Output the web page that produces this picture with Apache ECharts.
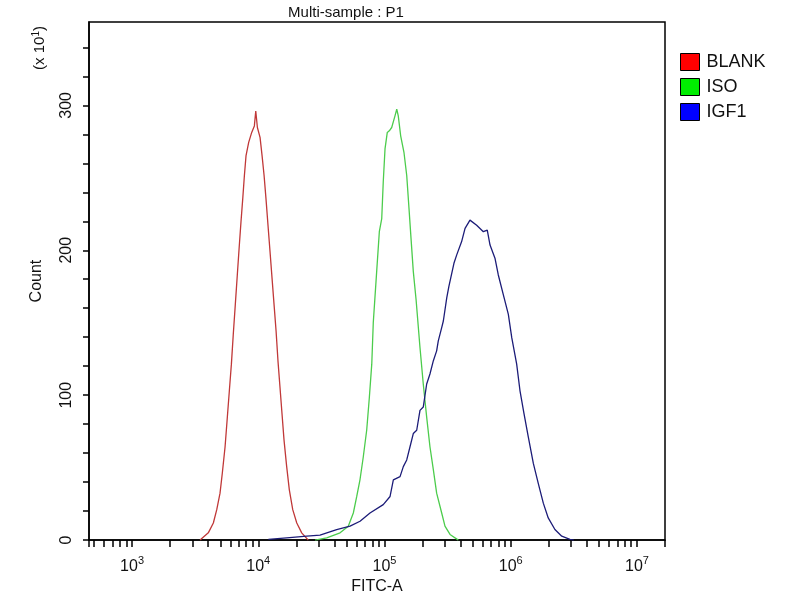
<!DOCTYPE html>
<html>
<head>
<meta charset="utf-8">
<script src="https://cdn.jsdelivr.net/npm/echarts@6/dist/echarts.min.js"></script>
<style>html,body{margin:0;padding:0;background:#fff}#c{width:800px;height:600px}</style>
</head>
<body>
<div id="c"></div>
<script>
// x values are log10(FITC-A); y values are Count (x10^1)
const blankLog = [3.539,3.604,3.644,3.671,3.697,3.715,3.737,3.755,3.771,3.787,3.802,3.818,3.834,3.850,3.863,3.877,3.890,3.903,3.924,3.948,3.969,3.980,3.993,4.014,4.030,4.046,4.061,4.077,4.093,4.109,4.125,4.141,4.156,4.172,4.188,4.204,4.225,4.246,4.273,4.305,4.344,4.396];
const blankCount = [0,5.0,11.8,21.0,32.4,46.1,64.4,84.9,103.2,121.4,142.0,162.5,183.1,203.6,219.6,235.6,251.6,265.3,274.4,281.3,285.8,296.1,284.7,277.9,265.3,251.6,235.6,217.3,199.1,180.8,162.5,144.3,123.7,105.5,87.2,69.0,50.7,34.7,21.0,11.8,5.0,0];

const isoLog = [4.450,4.542,4.648,4.713,4.753,4.780,4.806,4.832,4.859,4.880,4.899,4.911,4.938,4.959,4.978,4.990,5.004,5.022,5.038,5.057,5.083,5.097,5.109,5.128,5.154,5.176,5.194,5.210,5.228,5.250,5.281,5.307,5.334,5.360,5.387,5.413,5.453,5.479,5.519,5.585];
const isoCount = [0,1.6,5.0,9.6,18.7,30.1,41.8,57.5,76.0,98.6,121.4,150.0,185.4,212.8,221.9,247.1,269.9,281.3,282.4,284.7,292.7,297.3,292.7,279.0,267.6,251.6,228.8,208.2,185.4,166.0,132.9,107.7,84.9,64.4,48.4,32.4,18.7,9.6,3.9,0];

const igf1Log = [4.080,4.225,4.384,4.489,4.621,4.727,4.806,4.885,4.990,5.044,5.070,5.123,5.149,5.176,5.202,5.228,5.255,5.281,5.307,5.334,5.360,5.387,5.413,5.426,5.453,5.466,5.493,5.510,5.550,5.572,5.611,5.638,5.677,5.730,5.783,5.814,5.836,5.875,5.901,5.941,5.981,6.008,6.047,6.073,6.105,6.139,6.179,6.218,6.258,6.297,6.350,6.404,6.469,6.500];
const igf1Count = [0.5,1.6,2.7,3.4,7.3,9.6,13.0,18.7,24.5,30.1,41.6,43.8,50.7,55.3,64.4,73.5,75.8,89.5,91.8,107.7,114.6,123.8,130.6,137.5,146.6,151.2,167.1,175.0,191.0,196.8,206.0,215.1,220.8,217.3,212.8,213.9,203.6,194.5,183.1,169.4,155.7,139.7,121.4,103.2,87.2,71.2,52.9,39.2,25.5,15.3,7.3,2.7,0.5,0];

const seriesNames = ['BLANK', 'ISO', 'IGF1'];
const xDecades = [3, 4, 5, 6, 7];
const yTickLabels = [0, 100, 200, 300];

const X_MIN = 2.659, X_MAX = 7.222, Y_MAX = 357.5;

// minor tick positions on the log axis (k * 10^n)
const xTicks = [X_MIN];
for (let n = 2; n <= 7; n++) {
  for (let k = 1; k <= 9; k++) {
    const v = n + Math.log10(k);
    if (v > X_MIN + 1e-6 && v < X_MAX - 1e-6) xTicks.push(v);
  }
}
xTicks.push(X_MAX);
const yTicks = [];
for (let v = 0; v <= 340; v += 20) yTicks.push(v);

function pairs(xs, ys) { return xs.map((x, i) => [x, ys[i]]); }

const chart = echarts.init(document.getElementById('c'), null, {renderer: 'canvas'});
const FONT = '"Liberation Sans", Arial, sans-serif';

chart.setOption({
  animation: false,
  backgroundColor: '#fff',
  textStyle: {fontFamily: FONT},
  title: {
    text: 'Multi-sample : P1',
    left: 341, top: 0, textAlign: 'center',
    textStyle: {fontSize: 15, fontWeight: 'normal', color: '#111', fontFamily: FONT}
  },
  grid: {left: 89, right: 135, top: 22, bottom: 56, show: true, borderColor: '#000', borderWidth: 1.5, backgroundColor: 'transparent'},
  legend: {
    orient: 'vertical', left: 675, top: 48,
    icon: 'rect', itemWidth: 19, itemHeight: 17, itemGap: 7,
    data: seriesNames,
    itemStyle: {borderColor: '#000', borderWidth: 1},
    textStyle: {fontSize: 18, color: '#111', fontFamily: FONT, padding: [0, 0, 0, 2]}
  },
  xAxis: {
    type: 'value', min: X_MIN, max: X_MAX,
    name: 'FITC-A', nameLocation: 'middle', nameGap: 38,
    nameTextStyle: {fontSize: 16, color: '#111', fontFamily: FONT},
    axisLine: {lineStyle: {color: '#000', width: 1.5}},
    axisTick: {customValues: xTicks, length: 7, lineStyle: {color: '#000', width: 1.5}},
    axisLabel: {
      customValues: xDecades, margin: 15, color: '#111',
      formatter: v => '{b|10}{s|' + Math.round(v) + '}',
      rich: {
        b: {fontSize: 16, lineHeight: 22, fontFamily: FONT, color: '#111'},
        s: {fontSize: 11, lineHeight: 22, verticalAlign: 'top', fontFamily: FONT, color: '#111'}
      }
    },
    splitLine: {show: false}
  },
  yAxis: {
    type: 'value', min: 0, max: Y_MAX,
    name: 'Count', nameLocation: 'middle', nameGap: 44, nameRotate: 90,
    nameTextStyle: {fontSize: 16, color: '#111', fontFamily: FONT},
    axisLine: {show: true, lineStyle: {color: '#000', width: 1.5}},
    axisTick: {show: true, customValues: yTicks, length: 6, lineStyle: {color: '#000', width: 1.5}},
    axisLabel: {customValues: yTickLabels, rotate: 90, margin: 14, fontSize: 16, color: '#111', fontFamily: FONT},
    splitLine: {show: false}
  },
  graphic: [{
    type: 'text', x: 40, y: 48, rotation: Math.PI / 2,
    style: {
      text: '(x 10{s|1})', fontSize: 15, fontFamily: FONT, fill: '#111',
      align: 'center', verticalAlign: 'middle',
      rich: {s: {fontSize: 10, verticalAlign: 'top', lineHeight: 18, fontFamily: FONT, fill: '#111'}}
    }
  }],
  series: [
    {name: seriesNames[0], type: 'line', data: pairs(blankLog, blankCount), symbol: 'none',
     itemStyle: {color: '#ff0000'}, lineStyle: {color: '#c03838', width: 1.3}, z: 3},
    {name: seriesNames[1], type: 'line', data: pairs(isoLog, isoCount), symbol: 'none',
     itemStyle: {color: '#00ee00'}, lineStyle: {color: '#4ccc4c', width: 1.3}, z: 4},
    {name: seriesNames[2], type: 'line', data: pairs(igf1Log, igf1Count), symbol: 'none',
     itemStyle: {color: '#0000ff'}, lineStyle: {color: '#1c1c78', width: 1.3}, z: 5}
  ]
});
</script>
</body>
</html>
